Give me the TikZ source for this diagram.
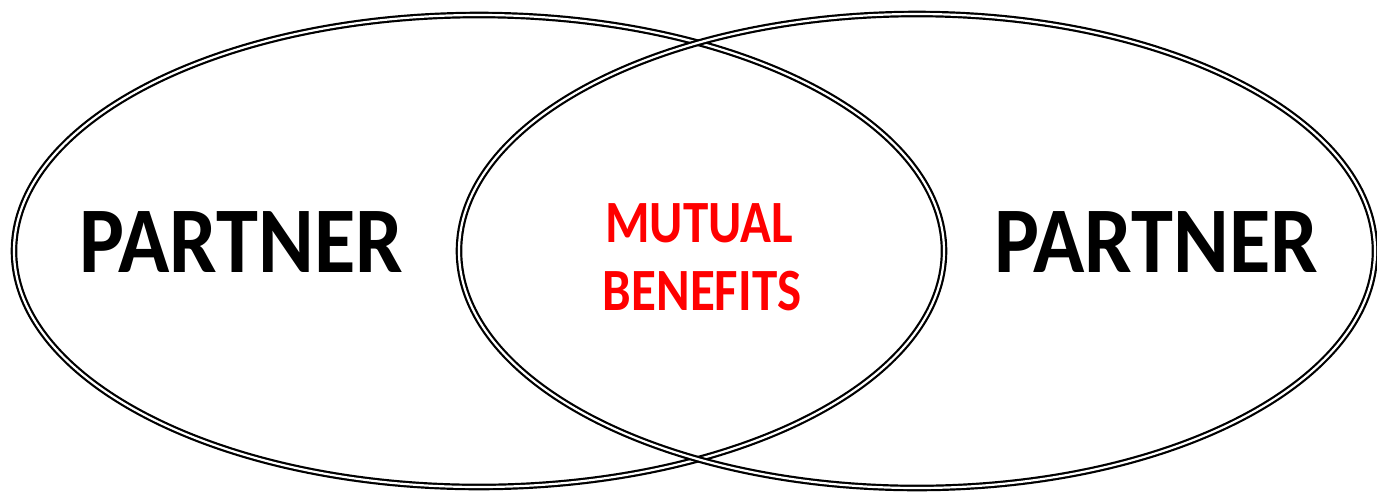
\documentclass[tikz,border=0pt]{standalone}
\usepackage{fontspec}
\setmainfont{Carlito}
\usepackage{graphicx}
\begin{document}
\begin{tikzpicture}[x=1pt,y=-1pt,
  ring/.style={draw=black,double=white,line width=2.2pt,double distance=2.2pt},
  partner/.style={font=\fontsize{94}{100}\selectfont\bfseries,text=black,anchor=base,inner sep=0pt},
  mutual/.style={font=\fontsize{60}{68}\selectfont\bfseries,text=red,anchor=base,inner sep=0pt}]
\useasboundingbox (0,0) rectangle (1377,491);
\draw[ring] (479,251) ellipse [x radius=465, y radius=236];
\draw[ring] (917,251) ellipse [x radius=458, y radius=237];
\node[partner] (p1) at (241,272) {\scalebox{0.9}[1]{PARTNER}};
\node[partner] (p2) at (1156,272) {\scalebox{0.9}[1]{PARTNER}};
\node[mutual] (m1) at (699,242) {\scalebox{0.85}[1]{MUTUAL}};
\node[mutual] (m2) at (702,310) {\scalebox{0.85}[1]{BENEFITS}};
\end{tikzpicture}
\end{document}
